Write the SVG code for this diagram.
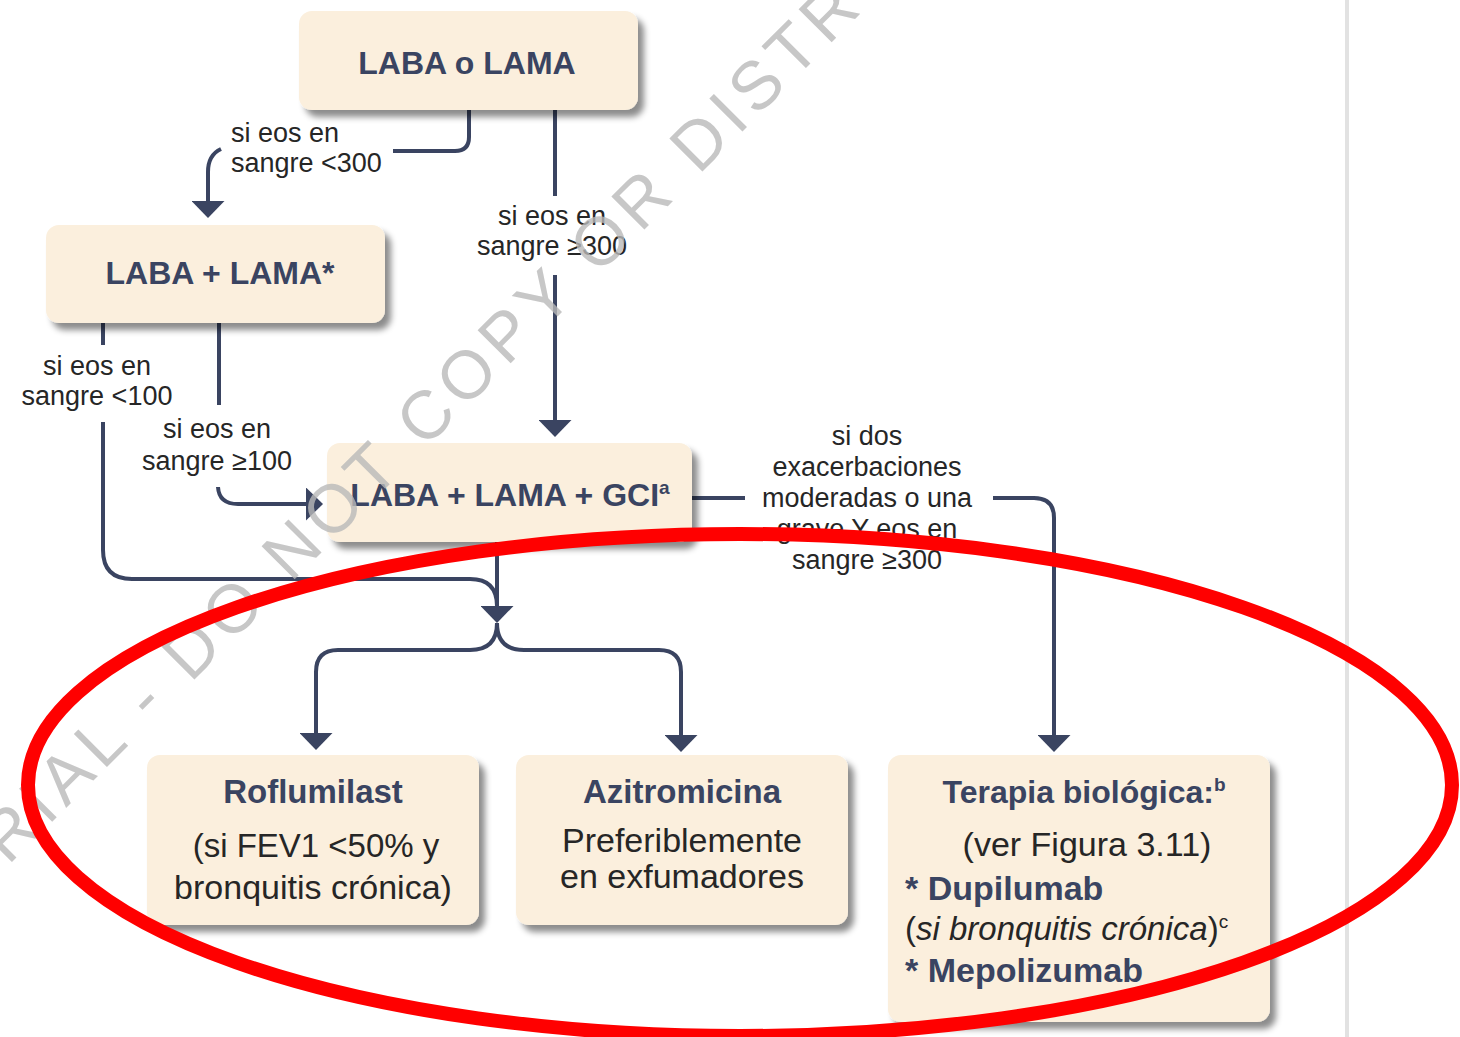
<svg xmlns="http://www.w3.org/2000/svg" width="1460" height="1037" viewBox="0 0 1460 1037">
<defs>
<filter id="sh" x="-5%" y="-5%" width="115%" height="125%">
<feDropShadow dx="6" dy="7" stdDeviation="3" flood-color="#000" flood-opacity="0.45"/>
</filter>
<marker id="ah" markerUnits="userSpaceOnUse" markerWidth="17" markerHeight="33" viewBox="0 0 17 33" refX="9" refY="16.5" orient="auto">
<path d="M0,0 L17,16.5 L0,33 Z" fill="#3A4461"/>
</marker>
<style>
.box{fill:#FBEFDD;filter:url(#sh)}
text{font-family:"Liberation Sans",Arial,sans-serif}
.b{font-weight:bold;fill:#3A4461}
.r{fill:#262626}
.m{text-anchor:middle}
.lbl{font-size:27px;fill:#262626}
.c{fill:none;stroke:#3A4461;stroke-width:4}
.a{marker-end:url(#ah)}
</style>
</defs>
<rect width="1460" height="1037" fill="#fff"/>
<line x1="1347" y1="0" x2="1347" y2="1037" stroke="#e2e2e2" stroke-width="4"/>

<g id="connectors">
<path class="c" d="M469,110 V137 Q469,151 455,151 H393"/>
<path class="c a" d="M221,149 Q208,155 208,172 V210"/>
<path class="c" d="M555,110 V196"/>
<path class="c a" d="M555,275 V429"/>
<path class="c" d="M103,323 V345"/>
<path class="c" d="M103,422 V550 Q103,579 132,579 H470 Q497,579 497,606"/>
<path class="c" d="M219,323 V405"/>
<path class="c a" d="M218,487 Q219,504 238,504 H315"/>
<path class="c a" d="M497,542 V615"/>
<path class="c a" d="M497,623 Q497,650 470,650 H338 Q316,650 316,672 V742"/>
<path class="c a" d="M497,623 Q497,650 524,650 H659 Q681,650 681,672 V744"/>
<path class="c" d="M692,498 H745"/>
<path class="c a" d="M993,498 H1034 Q1054,498 1054,518 V744"/>
</g>

<g id="labels">
<text class="lbl" x="231" y="142">si eos en</text>
<text class="lbl" x="231" y="172">sangre &lt;300</text>
<text class="lbl m" x="552" y="225">si eos en</text>
<text class="lbl m" x="552" y="255">sangre ≥300</text>
<text class="lbl m" x="97" y="375">si eos en</text>
<text class="lbl m" x="97" y="405">sangre &lt;100</text>
<text class="lbl m" x="217" y="438">si eos en</text>
<text class="lbl m" x="217" y="470">sangre ≥100</text>
<text class="lbl m" x="867" y="445">si dos</text>
<text class="lbl m" x="867" y="476">exacerbaciones</text>
<text class="lbl m" x="867" y="507">moderadas o una</text>
<text class="lbl m" x="867" y="538">grave Y eos en</text>
<text class="lbl m" x="867" y="569">sangre ≥300</text>
</g>

<g id="n1">
<rect class="box" x="299" y="11" width="339" height="99" rx="13"/>
<text class="b m" x="467" y="74" font-size="32">LABA o LAMA</text>
</g>
<g id="n2">
<rect class="box" x="46" y="225" width="339" height="98" rx="13"/>
<text class="b m" x="220" y="284" font-size="32">LABA + LAMA*</text>
</g>
<g id="n3">
<rect class="box" x="327" y="443" width="365" height="99" rx="13"/>
<text class="b m" x="510" y="506" font-size="32">LABA + LAMA + GCI<tspan font-size="19" dy="-12">a</tspan></text>
</g>
<g id="n4">
<rect class="box" x="147" y="755" width="332" height="170" rx="13"/>
<text class="b m" x="313" y="803" font-size="33">Roflumilast</text>
<text class="r m" x="316" y="857" font-size="33">(si FEV1 &lt;50% y</text>
<text class="r m" x="313" y="899" font-size="34">bronquitis crónica)</text>
</g>
<g id="n5">
<rect class="box" x="516" y="755" width="332" height="170" rx="13"/>
<text class="b m" x="682" y="803" font-size="33">Azitromicina</text>
<text class="r m" x="682" y="852" font-size="34">Preferiblemente</text>
<text class="r m" x="682" y="888" font-size="34">en exfumadores</text>
</g>
<g id="n6">
<rect class="box" x="888" y="755" width="382" height="267" rx="13"/>
<text class="b m" x="1084" y="803" font-size="32">Terapia biológica:<tspan font-size="19" dy="-12">b</tspan></text>
<text class="r m" x="1087" y="856" font-size="34">(ver Figura 3.11)</text>
<text class="b" x="905" y="900" font-size="34">* Dupilumab</text>
<text class="r" x="905" y="940" font-size="33">(<tspan font-style="italic">si bronquitis crónica</tspan>)<tspan font-size="19" dy="-12">c</tspan></text>
<text class="b" x="905" y="982" font-size="34">* Mepolizumab</text>
</g>

<g id="watermark">
<text x="8" y="866" transform="rotate(-45 8 866)" font-size="68" letter-spacing="7" fill="#b9b9b9" fill-opacity="0.8">RIAL - DO NOT COPY OR DISTR</text>
</g>

<ellipse cx="740" cy="785" rx="712" ry="251" fill="none" stroke="#ff0000" stroke-width="14"/>
</svg>
